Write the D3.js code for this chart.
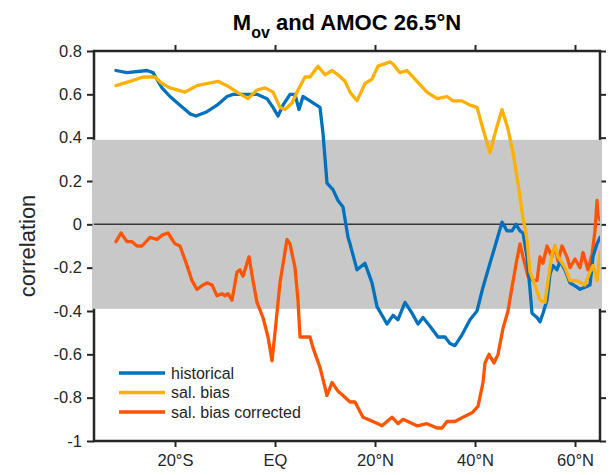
<!DOCTYPE html>
<html>
<head>
<meta charset="utf-8">
<script src="https://cdn.jsdelivr.net/npm/d3@7"></script>
<style>
  html, body { margin: 0; padding: 0; background: #fff; }
  svg { display: block; font-family: "Liberation Sans", Arial, Helvetica, sans-serif; }
</style>
</head>
<body>
<svg id="chart" width="612" height="475"></svg>
<script>
// Correlation of M_ov with AMOC at 26.5°N as a function of latitude
const seriesNames = ["historical", "sal. bias", "sal. bias corrected"];
const seriesColors = ["#0072BD", "#FFB000", "#FF5500"];

// [latitude, correlation]
const historical = [
  [-31.8,0.71],[-29.6,0.70],[-25.6,0.71],[-24.4,0.70],[-22.6,0.63],[-21,0.59],[-19,0.55],
  [-17,0.51],[-15.8,0.50],[-13.6,0.52],[-11.6,0.55],[-9.6,0.59],[-8.4,0.60],[-5.6,0.60],
  [-3.6,0.60],[-1.6,0.58],[-0.4,0.54],[0.6,0.50],[1.6,0.55],[3,0.60],[4,0.60],[4.8,0.53],
  [5.6,0.59],[7,0.57],[9,0.54],[9.6,0.42],[10.4,0.19],[11.6,0.16],[12.6,0.11],[13.6,0.08],
  [14.6,-0.06],[15,-0.09],[16.4,-0.21],[18,-0.18],[19.4,-0.27],[20.4,-0.38],[22.4,-0.46],
  [23.6,-0.42],[24.6,-0.44],[26,-0.36],[27.4,-0.41],[28.6,-0.46],[29.6,-0.43],[31,-0.47],
  [32.6,-0.52],[34,-0.52],[35,-0.55],[36,-0.56],[37.4,-0.51],[39,-0.44],[40.4,-0.40],
  [41.6,-0.29],[43,-0.18],[44.4,-0.07],[45.4,0.01],[46.4,-0.03],[47.4,-0.03],[48.2,0.0],
  [49,-0.03],[49.6,-0.04],[50.4,-0.15],[51,-0.30],[51.4,-0.41],[52.4,-0.43],[53,-0.45],
  [53.6,-0.41],[54.4,-0.35],[55,-0.23],[55.6,-0.19],[56.4,-0.21],[57,-0.17],[58,-0.21],
  [59,-0.27],[60.4,-0.29],[61,-0.30],[62,-0.29],[63,-0.28],[63.6,-0.15],[64.4,-0.09],[65,-0.06]
];
const salBias = [
  [-31.8,0.64],[-29,0.66],[-26.4,0.68],[-24,0.68],[-22.6,0.65],[-21,0.63],[-18,0.61],
  [-15.6,0.64],[-13.6,0.65],[-11.4,0.66],[-9.6,0.64],[-7.6,0.61],[-5.4,0.58],[-3.6,0.62],
  [-2,0.63],[-0.4,0.61],[1,0.54],[2,0.53],[3.4,0.56],[4.6,0.62],[6,0.68],[7,0.68],[8.6,0.73],
  [10,0.69],[11.4,0.71],[12.6,0.69],[14,0.66],[15,0.61],[16.4,0.57],[18,0.65],[19.4,0.67],
  [20.6,0.73],[23,0.75],[23.6,0.74],[25,0.70],[26.4,0.71],[28.4,0.66],[30.4,0.61],[32.4,0.58],
  [34.4,0.59],[35.6,0.57],[37.4,0.57],[39,0.55],[40.4,0.54],[41.6,0.44],[43,0.33],[44,0.42],
  [45.4,0.53],[46.6,0.44],[47.6,0.33],[48.6,0.19],[49.6,0.03],[50.4,-0.07],[51,-0.22],
  [52,-0.28],[53,-0.35],[54,-0.36],[54.6,-0.26],[55.4,-0.14],[56,-0.10],[56.6,-0.15],
  [58,-0.20],[59,-0.26],[60.4,-0.26],[62,-0.28],[63,-0.22],[63.6,-0.19],[64.4,-0.26],[65,-0.13]
];
const salBiasCorrected = [
  [-31.8,-0.08],[-30.8,-0.04],[-29.6,-0.08],[-28.6,-0.08],[-27.6,-0.10],[-26.6,-0.10],[-25,-0.06],
  [-23.6,-0.07],[-22.6,-0.05],[-21.4,-0.04],[-20,-0.09],[-19,-0.10],[-17.6,-0.19],[-16.6,-0.26],
  [-15.6,-0.30],[-14.4,-0.28],[-13.6,-0.27],[-12.6,-0.28],[-11.6,-0.33],[-10.6,-0.32],[-10,-0.33],
  [-9.4,-0.32],[-8.6,-0.35],[-7.6,-0.22],[-7,-0.21],[-6.4,-0.24],[-5.2,-0.15],[-4.4,-0.26],
  [-3.6,-0.36],[-2.4,-0.43],[-1.4,-0.52],[-0.6,-0.63],[0,-0.50],[1,-0.27],[2.4,-0.07],[3,-0.09],
  [4,-0.20],[4.6,-0.35],[5,-0.52],[6.4,-0.52],[7,-0.52],[7.6,-0.57],[9,-0.66],[10.4,-0.79],
  [11.4,-0.73],[12.6,-0.77],[13.6,-0.79],[15,-0.82],[16,-0.82],[17.6,-0.89],[19.6,-0.91],
  [21.4,-0.93],[23.4,-0.89],[24.6,-0.92],[25.6,-0.90],[28.4,-0.93],[30.4,-0.92],[32.4,-0.94],
  [33.4,-0.94],[34.4,-0.91],[36,-0.91],[37.6,-0.89],[39.4,-0.87],[40.6,-0.84],[41.6,-0.73],
  [42,-0.64],[42.8,-0.60],[43.8,-0.64],[44.6,-0.60],[45.6,-0.48],[46.6,-0.40],[47.4,-0.29],
  [48.4,-0.16],[49,-0.09],[49.6,-0.15],[50.6,-0.24],[51.6,-0.26],[52.4,-0.26],[53,-0.15],
  [53.6,-0.18],[54.4,-0.10],[55.4,-0.15],[56,-0.10],[56.6,-0.17],[57.4,-0.10],[58.4,-0.15],
  [59,-0.20],[60,-0.16],[61,-0.20],[61.6,-0.13],[62.6,-0.21],[63.4,-0.14],[64,-0.03],
  [64.4,0.11],[64.6,0.04],[65,0.02]
];

const xTickValues = [-20, 0, 20, 40, 60];
const xTickLabels = ["20°S", "EQ", "20°N", "40°N", "60°N"];
const yTickValues = [-1, -0.8, -0.6, -0.4, -0.2, 0, 0.2, 0.4, 0.6, 0.8];
const yTickLabels = ["-1", "-0.8", "-0.6", "-0.4", "-0.2", "0", "0.2", "0.4", "0.6", "0.8"];
const significance = 0.39;

const svg = d3.select("#chart");
const plot = { left: 94, right: 600, top: 51, bottom: 441 };
const axisColor = "#262626";

const x = d3.scaleLinear().domain([-36.2, 65]).range([plot.left, plot.right]);
const y = d3.scaleLinear().domain([-1, 0.8]).range([plot.bottom, plot.top]);

function styleAxis(g, labels) {
  g.select(".domain").remove();
  g.selectAll(".tick line").attr("stroke", axisColor).attr("stroke-width", 2);
  g.selectAll(".tick text").attr("fill", axisColor).style("font-size", "16.5px")
    .style("font-family", "'Liberation Sans', Arial, sans-serif");
  if (!labels) g.selectAll(".tick text").remove();
}

// Axes with ticks on all four sides, pointing outward
svg.append("g").attr("transform", `translate(0,${plot.bottom})`)
  .call(d3.axisBottom(x).tickValues(xTickValues).tickFormat((d, i) => xTickLabels[i]).tickSize(6).tickPadding(7))
  .call(g => styleAxis(g, true));
svg.append("g").attr("transform", `translate(0,${plot.top})`)
  .call(d3.axisTop(x).tickValues(xTickValues).tickSize(6))
  .call(g => styleAxis(g, false));
svg.append("g").attr("transform", `translate(${plot.left},0)`)
  .call(d3.axisLeft(y).tickValues(yTickValues).tickFormat((d, i) => yTickLabels[i]).tickSize(7).tickPadding(5))
  .call(g => styleAxis(g, true));
svg.append("g").attr("transform", `translate(${plot.right},0)`)
  .call(d3.axisRight(y).tickValues(yTickValues).tickSize(6))
  .call(g => styleAxis(g, false));

// Box frame
svg.append("rect")
  .attr("x", plot.left).attr("y", plot.top)
  .attr("width", plot.right - plot.left).attr("height", plot.bottom - plot.top)
  .attr("fill", "none").attr("stroke", axisColor).attr("stroke-width", 2.5);

// Non-significant band
svg.append("rect")
  .attr("x", plot.left - 1.5).attr("y", y(significance))
  .attr("width", plot.right - plot.left + 3).attr("height", y(-significance) - y(significance))
  .attr("fill", "#c8c8c8");

// Zero line
svg.append("line")
  .attr("x1", plot.left).attr("x2", plot.right).attr("y1", y(0)).attr("y2", y(0))
  .attr("stroke", "#3a3a3a").attr("stroke-width", 1.5);

svg.append("clipPath").attr("id", "plot-clip")
  .append("rect").attr("x", plot.left).attr("y", plot.top)
  .attr("width", plot.right - plot.left).attr("height", plot.bottom - plot.top);

const line = d3.line().x(d => x(d[0])).y(d => y(d[1]));
const allSeries = [historical, salBias, salBiasCorrected];
// draw order: corrected, historical, sal. bias on top
[2, 0, 1].forEach(i => {
  svg.append("path")
    .datum(allSeries[i])
    .attr("clip-path", "url(#plot-clip)")
    .attr("fill", "none")
    .attr("stroke", seriesColors[i])
    .attr("stroke-width", 3.3)
    .attr("stroke-linejoin", "round")
    .attr("stroke-linecap", "round")
    .attr("d", line);
});

// Legend
const legend = svg.append("g");
seriesNames.forEach((name, i) => {
  const ly = 373 + i * 19.5;
  legend.append("line").attr("x1", 119).attr("x2", 165).attr("y1", ly).attr("y2", ly)
    .attr("stroke", seriesColors[i]).attr("stroke-width", 3.3);
  legend.append("text").attr("x", 171).attr("y", ly + 5.5)
    .attr("fill", axisColor).style("font-size", "16px").text(name);
});

// Y axis label
svg.append("text")
  .attr("transform", `translate(35,${(plot.top + plot.bottom) / 2}) rotate(-90)`)
  .attr("text-anchor", "middle")
  .attr("fill", axisColor)
  .style("font-size", "22px")
  .text("correlation");

// Title with subscript
const title = svg.append("text")
  .attr("x", (plot.left + plot.right) / 2).attr("y", 30)
  .attr("text-anchor", "middle")
  .attr("fill", "#000")
  .style("font-size", "22px").style("font-weight", "bold");
title.append("tspan").text("M");
title.append("tspan").attr("dy", 8).style("font-size", "16px").text("ov");
title.append("tspan").attr("dy", -8).text(" and AMOC 26.5°N");
</script>
</body>
</html>
